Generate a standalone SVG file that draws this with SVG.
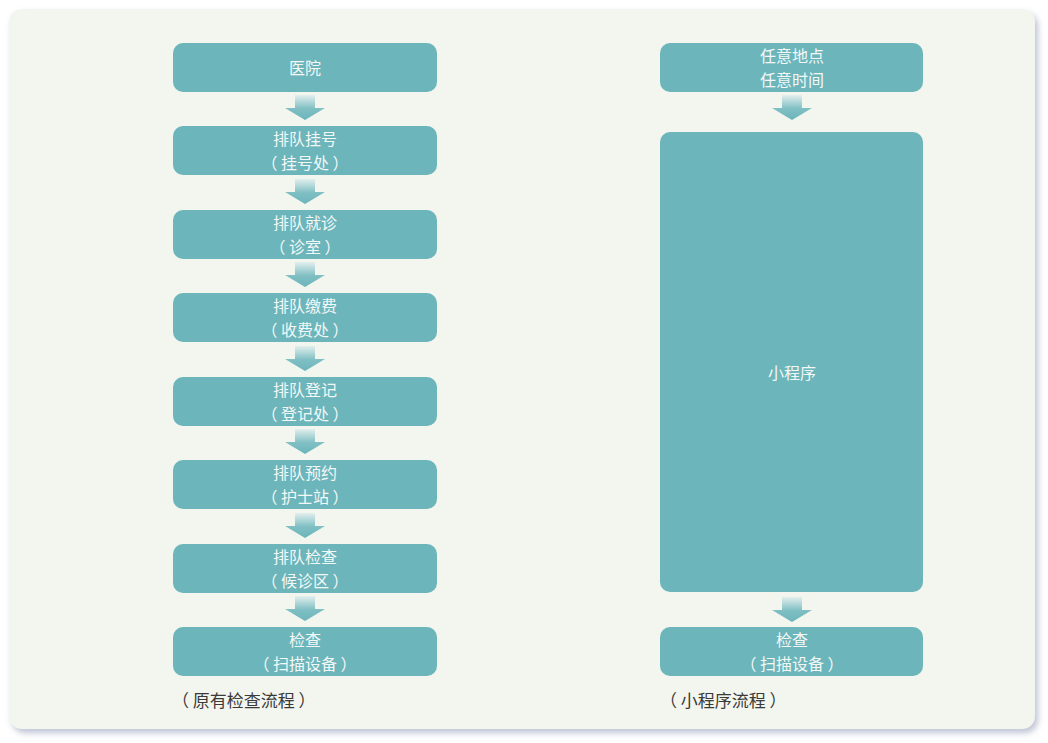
<svg xmlns="http://www.w3.org/2000/svg" width="1048" height="743" viewBox="0 0 1048 743">
<defs>
<filter id="sh" x="-5%" y="-5%" width="110%" height="110%">
<feDropShadow dx="3" dy="4" stdDeviation="3" flood-color="#8a93b3" flood-opacity="0.55"/>
</filter>
<linearGradient id="ag" x1="0" y1="0" x2="0" y2="1">
<stop offset="0" stop-color="#e2efee"/>
<stop offset="0.55" stop-color="#7fbfc3"/>
<stop offset="1" stop-color="#6cb5bb"/>
</linearGradient>
<path id="arr" d="M-10,0 H10 V13 H20 L0,25 L-20,13 H-10 Z" fill="url(#ag)"/>
<style>
.n{fill:#6cb5bb;}
.t{font-family:"Noto Sans CJK SC","Noto Sans",sans-serif;font-size:16px;fill:#f3f8f7;text-anchor:middle;}
.c{font-family:"Noto Sans CJK SC","Noto Sans",sans-serif;font-size:17px;fill:#3a3a3a;}
</style>
</defs>
<rect x="0" y="0" width="1048" height="743" fill="#ffffff"/>
<rect x="9" y="9" width="1026" height="720" rx="13" fill="#f3f6ee" filter="url(#sh)"/>
<g id="connectors">
<use href="#arr" x="305" y="95"/>
<use href="#arr" x="305" y="179"/>
<use href="#arr" x="305" y="262"/>
<use href="#arr" x="305" y="346"/>
<use href="#arr" x="305" y="429"/>
<use href="#arr" x="305" y="513"/>
<use href="#arr" x="305" y="596"/>
<use href="#arr" x="792" y="95"/>
<use href="#arr" x="792" y="597"/>
</g>
<g id="n1"><rect class="n" x="173" y="43" width="264" height="49" rx="10"/><text class="t" x="305" y="74">医院</text></g>
<g id="n2"><rect class="n" x="173" y="126" width="264" height="49" rx="10"/><text class="t" x="305" y="144.75">排队挂号</text><text class="t" x="305" y="168.5">（ 挂号处 ）</text></g>
<g id="n3"><rect class="n" x="173" y="210" width="264" height="49" rx="10"/><text class="t" x="305" y="228.75">排队就诊</text><text class="t" x="305" y="252.5">（ 诊室 ）</text></g>
<g id="n4"><rect class="n" x="173" y="293" width="264" height="49" rx="10"/><text class="t" x="305" y="311.75">排队缴费</text><text class="t" x="305" y="335.5">（ 收费处 ）</text></g>
<g id="n5"><rect class="n" x="173" y="377" width="264" height="49" rx="10"/><text class="t" x="305" y="395.75">排队登记</text><text class="t" x="305" y="419.5">（ 登记处 ）</text></g>
<g id="n6"><rect class="n" x="173" y="460" width="264" height="49" rx="10"/><text class="t" x="305" y="478.75">排队预约</text><text class="t" x="305" y="502.5">（ 护士站 ）</text></g>
<g id="n7"><rect class="n" x="173" y="544" width="264" height="49" rx="10"/><text class="t" x="305" y="562.75">排队检查</text><text class="t" x="305" y="586.5">（ 候诊区 ）</text></g>
<g id="n8"><rect class="n" x="173" y="627" width="264" height="49" rx="10"/><text class="t" x="305" y="645.75">检查</text><text class="t" x="305" y="669.5">（ 扫描设备 ）</text></g>
<g id="r1"><rect class="n" x="660" y="43" width="263" height="49" rx="10"/><text class="t" x="792" y="61.75">任意地点</text><text class="t" x="792" y="85.5">任意时间</text></g>
<g id="r2"><rect class="n" x="660" y="132" width="263" height="460" rx="10"/><text class="t" x="792" y="379">小程序</text></g>
<g id="r3"><rect class="n" x="660" y="627" width="263" height="49" rx="10"/><text class="t" x="792" y="645.75">检查</text><text class="t" x="792" y="669.5">（ 扫描设备 ）</text></g>
<g id="captions">
<text class="c" x="172" y="707">（ 原有检查流程 ）</text>
<text class="c" x="660" y="707">（ 小程序流程 ）</text>
</g>
</svg>
